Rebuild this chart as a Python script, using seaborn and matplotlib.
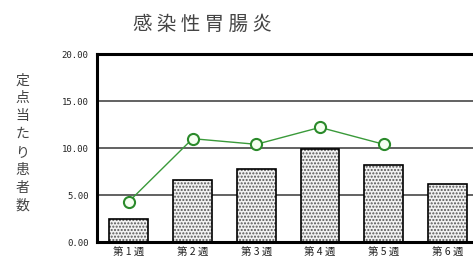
import matplotlib
matplotlib.use("Agg")
import matplotlib.pyplot as plt
import seaborn as sns
import pandas as pd

# data
weeks = ["第 1 週", "第 2 週", "第 3 週", "第 4 週", "第 5 週", "第 6 週"]
bar_values = [2.5, 6.6, 7.8, 9.9, 8.2, 6.2]
line_weeks = ["第 1 週", "第 2 週", "第 3 週", "第 4 週", "第 5 週"]
line_values = [4.3, 11.0, 10.4, 12.2, 10.4]
y_ticks = [0, 5, 10, 15, 20]
title = "感 染 性 胃 腸 炎"
ylabel = "定点当たり患者数"

sns.set_theme(style="white")
plt.rcParams["font.family"] = ["Noto Sans CJK JP", "DejaVu Sans"]

bars = pd.DataFrame({"week": weeks, "value": bar_values})
line = pd.DataFrame({"week": line_weeks, "value": line_values})

fig = plt.figure(figsize=(4.73, 2.60), dpi=100)
ax = fig.add_axes([0.205, 0.069, 0.795, 0.723])

# gridlines behind everything
for v in y_ticks[1:-1]:
    ax.axhline(v, color="#555555", linewidth=1.3, zorder=0)

# dotted fill, then black outlines on top
sns.barplot(data=bars, x="week", y="value", ax=ax, color="#f2f2f2",
            edgecolor="#555555", hatch=".....", linewidth=0, width=0.61,
            zorder=2)
sns.barplot(data=bars, x="week", y="value", ax=ax, fill=False,
            edgecolor="black", linewidth=1.2, width=0.61, zorder=3)

sns.lineplot(data=line, x="week", y="value", ax=ax, color="#3a9a3a",
             linewidth=1.0, marker="o", markersize=8, markerfacecolor="#f4fff0",
             markeredgecolor="#2a8a2a", markeredgewidth=1.5, zorder=4, sort=False)

ax.set_ylim(0, 20)
ax.set_xlim(-0.5, 5.40)
ax.set_yticks(y_ticks)
ax.set_yticklabels([f"{v:.2f}" for v in y_ticks], family="DejaVu Sans Mono",
                   fontsize=6.5, color="#222222")
ax.set_xticks(range(len(weeks)))
ax.set_xticklabels(weeks, fontsize=7.5, color="#222222")
ax.tick_params(axis="both", length=0, pad=6)
ax.tick_params(axis="x", pad=4)
ax.set_xlabel("")
ax.set_ylabel("")

for side in ["left", "bottom", "top"]:
    ax.spines[side].set_visible(True)
    ax.spines[side].set_color("black")
    ax.spines[side].set_linewidth(2.2)
ax.spines["right"].set_visible(False)

fig.text(0.427, 0.905, title, fontsize=14, color="#444444",
         ha="center", va="center")
fig.text(0.047, 0.45, "\n".join(ylabel), fontsize=10, color="#444444",
         ha="center", va="center", linespacing=1.35)

fig.savefig("out.png", dpi=100)
